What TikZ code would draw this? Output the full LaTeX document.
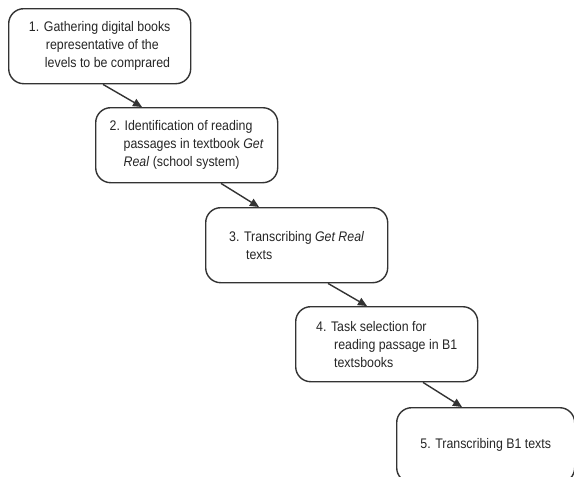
\documentclass[tikz,border=0pt]{standalone}
\usepackage{fontspec}
\setmainfont[FakeStretch=0.89]{Liberation Sans}
\usetikzlibrary{calc,arrows.meta}
\definecolor{edge}{HTML}{333333}
\begin{document}
\begin{tikzpicture}[x=1pt,y=-1pt,
  stepbox/.style={draw=edge, line width=1.4pt, rounded corners=15pt, fill=white,
    minimum width=182pt, minimum height=75pt, inner sep=0pt, anchor=north west,
    align=left, font=\fontsize{13.9pt}{18pt}\selectfont, text=black!85},
  link/.style={draw=edge, line width=1.4pt, -{Triangle[length=9pt,width=8pt]}}]
\useasboundingbox (0,0) rectangle (574,477);
\clip (0,0) rectangle (574,477);
\fill[white] (0,0) rectangle (574,477);
\node[stepbox] (b1) at (8,8) {1. Gathering digital books\\\hspace*{17pt}representative of the\\\hspace*{16pt}levels to be comprared};
\node[stepbox] (b2) at (95,107) {2. Identification of reading\\\hspace*{14pt}passages in textbook \textit{Get}\\\hspace*{14pt}\textit{Real} (school system)};
\node[stepbox] (b3) at (205,207) {3. Transcribing \textit{Get Real}\\\hspace*{17pt}texts};
\node[stepbox] (b4) at (295,306) {4. Task selection for\\\hspace*{18pt}reading passage in B1\\\hspace*{18pt}textsbooks};
\node[stepbox, minimum width=178pt] (b5) at (396,407) {5. Transcribing B1 texts};
\draw[link] ($(b1.south west)+(95,0)$) -- ($(b2.north west)+(47,0)$);
\draw[link] ($(b2.south west)+(126,0)$) -- ($(b3.north west)+(54,0)$);
\draw[link] ($(b3.south west)+(123,0)$) -- ($(b4.north west)+(72,0)$);
\draw[link] ($(b4.south west)+(128,0)$) -- ($(b5.north west)+(66,0)$);
\end{tikzpicture}
\end{document}
